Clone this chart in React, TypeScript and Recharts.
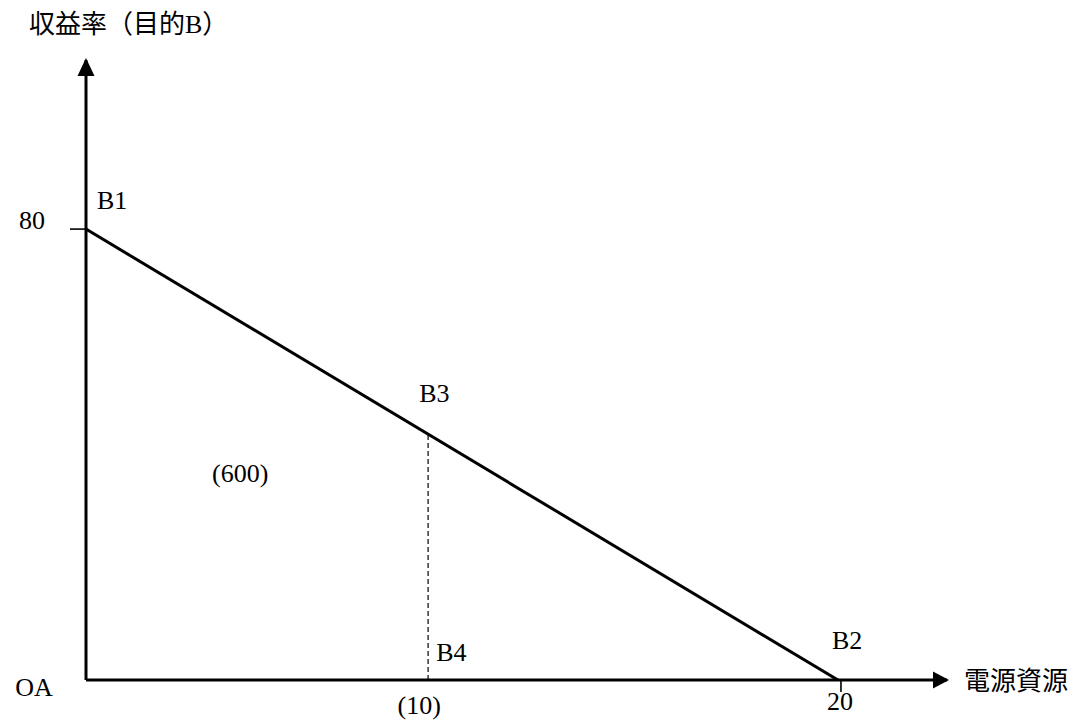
import React from "react";
import { ComposedChart, Line, XAxis, YAxis, ReferenceLine, ReferenceDot } from "recharts";

// ---- data ----
const lineX = [0, 20];
const lineY = [80, 0];
const dropX = 9.1;
const dropY = 43.6;
const xTicks = [9.1, 20];
const xTickLabels = ["(10)", "20"];
const yTicks = [0, 80];
const yTickLabels = ["OA", "80"];
const pointNames = ["B1", "B2", "B3", "B4"];
const pointX = [0, 20, 9.1, 9.1];
const pointY = [80, 0, 43.6, 0];
const areaText = "(600)";
const areaX = 4.1;
const areaY = 36.7;
const xMax = 22.9;
const yMax = 110;
const yTitle = "収益率（目的B）";
const xTitle = "電源資源";

// ---- layout / style ----
const W = 1075;
const H = 720;
const MARGIN = { top: 60, right: 128, bottom: 10, left: 26 };
const Y_AXIS_W = 60;
const X_AXIS_H = 30;
const AXIS_X = MARGIN.left + Y_AXIS_W;
const AXIS_Y = H - MARGIN.bottom - X_AXIS_H;
const FONT = "'Liberation Serif', 'Noto Sans CJK JP', serif";
const LATIN = 26;
const CJK = 26;

const lineData = lineX.map((x, i) => ({ x, y: lineY[i] }));

const labelOffsets: Record<string, [number, number]> = {
  B1: [11, -20],
  B2: [-6, -31],
  B3: [-9, -32],
  B4: [8, -19],
};

const YTick = (props: any) => {
  const { y, payload } = props;
  const i = yTicks.indexOf(payload.value);
  const label = yTickLabels[i];
  if (payload.value === 0) {
    return (
      <text x={AXIS_X - 52} y={y + 16} textAnchor="middle" fontFamily={FONT} fontSize={LATIN} fill="#000">
        {label}
      </text>
    );
  }
  return (
    <g>
      <line x1={AXIS_X - 16} x2={AXIS_X} y1={y} y2={y} stroke="#000" strokeWidth={1.6} />
      <text x={AXIS_X - 54} y={y} textAnchor="middle" fontFamily={FONT} fontSize={LATIN} fill="#000">
        {label}
      </text>
    </g>
  );
};

const XTick = (props: any) => {
  const { x, payload } = props;
  const i = xTicks.indexOf(payload.value);
  const label = xTickLabels[i];
  if (i === 1) {
    return (
      <g>
        <line x1={x + 3} x2={x + 3} y1={AXIS_Y} y2={AXIS_Y + 12} stroke="#000" strokeWidth={1.6} />
        <text x={x + 2} y={AXIS_Y + 30} textAnchor="middle" fontFamily={FONT} fontSize={LATIN} fill="#000">
          {label}
        </text>
      </g>
    );
  }
  return (
    <text x={x - 9} y={AXIS_Y + 34} textAnchor="middle" fontFamily={FONT} fontSize={LATIN} fill="#000">
      {label}
    </text>
  );
};

const YArrow = (props: any) => {
  const { cx, cy } = props;
  return (
    <g>
      <polygon points={`${cx},${cy - 2} ${cx - 8.5},${cy + 16} ${cx + 8.5},${cy + 16}`} fill="#000" />
      <text x={cx - 57} y={cy - 27} fontFamily={FONT} fontSize={CJK} fill="#000">
        {yTitle}
      </text>
    </g>
  );
};

const XArrow = (props: any) => {
  const { cx, cy } = props;
  return (
    <g>
      <polygon points={`${cx + 2},${cy} ${cx - 14},${cy - 8.5} ${cx - 14},${cy + 8.5}`} fill="#000" />
      <text x={cx + 17} y={cy + 10} fontFamily={FONT} fontSize={CJK} fill="#000">
        {xTitle}
      </text>
    </g>
  );
};

const makePointLabel = (name: string) => (props: any) => {
  const { cx, cy } = props;
  const [dx, dy] = labelOffsets[name];
  return (
    <text x={cx + dx} y={cy + dy} fontFamily={FONT} fontSize={LATIN} fill="#000">
      {name}
    </text>
  );
};

const AreaLabel = (props: any) => {
  const { cx, cy } = props;
  return (
    <text x={cx} y={cy + 9} textAnchor="middle" fontFamily={FONT} fontSize={LATIN} fill="#000">
      {areaText}
    </text>
  );
};

export default function App() {
  return (
    <div style={{ position: "absolute", left: 0, top: 0, width: W, height: H, background: "#fff" }}>
      <ComposedChart width={W} height={H} data={lineData} margin={MARGIN}>
        <XAxis
          type="number"
          dataKey="x"
          domain={[0, xMax]}
          ticks={xTicks}
          interval={0}
          height={X_AXIS_H}
          tickLine={false}
          tickSize={0}
          tickMargin={0}
          axisLine={{ stroke: "#000", strokeWidth: 3 }}
          tick={<XTick />}
          allowDataOverflow
        />
        <YAxis
          type="number"
          domain={[0, yMax]}
          ticks={yTicks}
          interval={0}
          width={Y_AXIS_W}
          tickLine={false}
          tickSize={0}
          tickMargin={0}
          axisLine={{ stroke: "#000", strokeWidth: 3 }}
          tick={<YTick />}
          allowDataOverflow
        />
        <ReferenceLine
          segment={[
            { x: dropX, y: 0 },
            { x: dropX, y: dropY },
          ]}
          stroke="#444"
          strokeWidth={1.6}
          strokeDasharray="5 3"
          ifOverflow="visible"
        />
        <Line
          type="linear"
          dataKey="y"
          stroke="#000"
          strokeWidth={3}
          dot={false}
          activeDot={false}
          isAnimationActive={false}
        />
        <ReferenceDot x={0} y={yMax} r={0} ifOverflow="visible" shape={<YArrow />} />
        <ReferenceDot x={xMax} y={0} r={0} ifOverflow="visible" shape={<XArrow />} />
        {pointNames.map((n, i) => (
          <ReferenceDot key={n} x={pointX[i]} y={pointY[i]} r={0} ifOverflow="visible" shape={makePointLabel(n)} />
        ))}
        <ReferenceDot x={areaX} y={areaY} r={0} ifOverflow="visible" shape={<AreaLabel />} />
      </ComposedChart>
    </div>
  );
}
